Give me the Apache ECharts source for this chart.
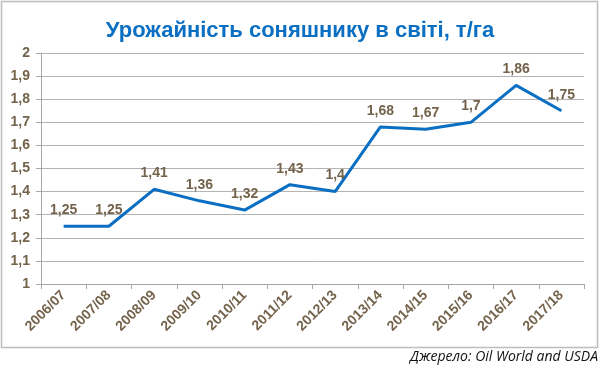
<!DOCTYPE html>
<html><head><meta charset="utf-8">
<script src="https://cdn.jsdelivr.net/npm/echarts@6/dist/echarts.min.js"></script>
<style>html,body{margin:0;padding:0;background:#fff}#c{width:600px;height:368px}</style>
</head><body><div id="c"></div>
<script>
const categories = ['2006/07','2007/08','2008/09','2009/10','2010/11','2011/12','2012/13','2013/14','2014/15','2015/16','2016/17','2017/18'];
const yields = [1.25,1.25,1.41,1.36,1.32,1.43,1.4,1.68,1.67,1.7,1.86,1.75];
const titleText = 'Урожайність соняшнику в світі, т/га';
const sourceText = 'Джерело: Oil World and USDA';
const brown = '#74634b';
const fmt = v => String(v).replace('.', ',');
const chart = echarts.init(document.getElementById('c'));
chart.setOption({
  animation: false,
  title: { text: titleText, left: 'center', top: 15, textStyle: { color: '#0a6fc2', fontSize: 22, fontWeight: 'bold', fontFamily: 'Liberation Sans' } },
  graphic: [
    { type: 'rect', shape: { x: 1.5, y: 1.5, width: 596, height: 346 }, style: { fill: null, stroke: '#bdbdbd', lineWidth: 1.5 }, z: -1 },
    { type: 'text', right: 2, top: 350, style: { text: sourceText, font: 'italic 14px "Open Sans"', fill: '#111' } }
  ],
  grid: { left: 41, right: 16, top: 53, bottom: 84 },
  xAxis: {
    type: 'category', data: categories, boundaryGap: true,
    axisLine: { lineStyle: { color: '#a6a6a6' } },
    axisTick: { show: true, alignWithLabel: false, length: 5, lineStyle: { color: '#a6a6a6' } },
    axisLabel: { rotate: 45, color: brown, fontWeight: 'bold', fontSize: 14, fontFamily: 'Liberation Sans', margin: 9, interval: 0 }
  },
  yAxis: {
    type: 'value', min: 1, max: 2, interval: 0.1,
    axisLine: { show: true, lineStyle: { color: '#a6a6a6' } },
    axisTick: { show: true, length: 5, lineStyle: { color: '#a6a6a6' } },
    splitLine: { lineStyle: { color: '#b3b3b3' } },
    axisLabel: { color: brown, fontWeight: 'bold', fontSize: 14, fontFamily: 'Liberation Sans', margin: 11, formatter: v => fmt(Math.round(v*10)/10) }
  },
  series: [{
    type: 'line', data: yields, symbol: 'circle', symbolSize: 0, showSymbol: true,
    itemStyle: { color: '#0a6fc2' },
    lineStyle: { color: '#0a6fc2', width: 3 },
    label: { show: true, position: 'top', distance: 9, color: brown, fontWeight: 'bold', fontSize: 14, fontFamily: 'Liberation Sans', formatter: p => fmt(p.value) }
  }]
});
</script></body></html>
